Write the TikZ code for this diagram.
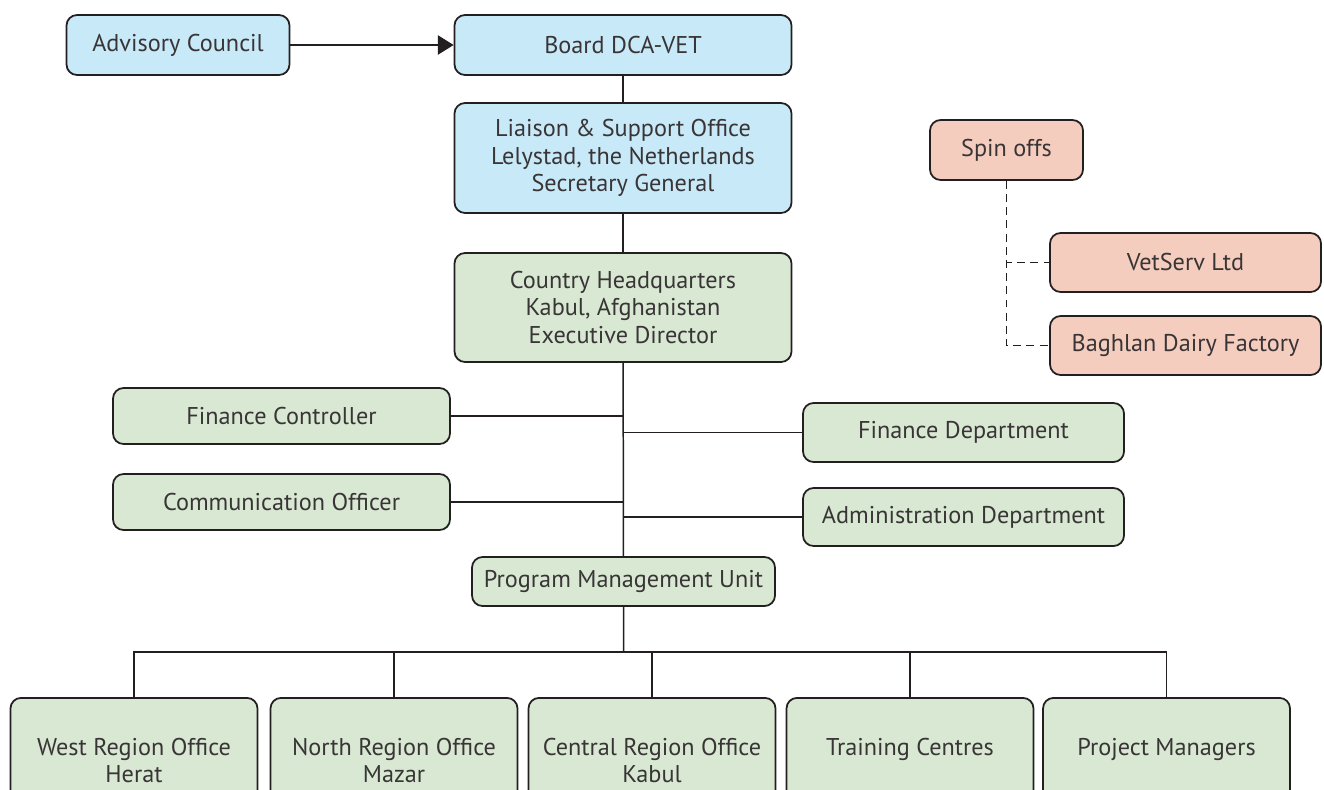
\documentclass[tikz,border=0pt]{standalone}
\usepackage{fontspec}
\setmainfont{PT Sans}
\usepackage{xcolor}
\usepackage{tikz}
\usetikzlibrary{
  arrows.meta,
  positioning,
  calc,
}

\definecolor{boxline}{HTML}{231F20}
\definecolor{boxblue}{HTML}{C8E9F8}
\definecolor{boxgreen}{HTML}{D8E8D3}
\definecolor{boxpink}{HTML}{F4CDBE}

\begin{document}
\begin{tikzpicture}[
  font=\fontsize{13.8}{15.8}\selectfont,
  every node/.style={align=center},
  box/.style={draw=boxline, line width=1pt, rounded corners=6pt,
    inner sep=2pt, text=boxline!90},
  bluebox/.style={box, fill=boxblue},
  greenbox/.style={box, fill=boxgreen},
  pinkbox/.style={box, fill=boxpink},
  regionbox/.style={greenbox, anchor=north, minimum width=4.94cm,
    inner ysep=0.8cm},
  link/.style={draw=boxline, line width=0.85pt},
  dashlink/.style={link, dash pattern=on 4.5pt off 3pt},
  arrow/.style={link, -{Triangle[length=9pt, width=11pt]}},
]

\useasboundingbox (0,0) rectangle (26.48,-15.78);
\clip (0,0) rectangle (26.48,-15.78);

%% Top of the chart
\node[bluebox, minimum width=4.46cm, minimum height=1.2cm] (adv)
  at (3.56,-0.90) {Advisory Council};
\node[bluebox, minimum width=6.74cm, minimum height=1.2cm] (board)
  at (12.46,-0.90) {Board DCA-VET};
\node[bluebox, minimum width=6.74cm, minimum height=2.2cm] (liaison)
  at (12.46,-3.16) {Liaison \& Support Office\\Lelystad, the Netherlands\\Secretary General};
\node[greenbox, minimum width=6.74cm, minimum height=2.18cm] (hq)
  at (12.46,-6.15) {Country Headquarters\\Kabul, Afghanistan\\Executive Director};

%% Staff and departments
\node[greenbox, minimum width=6.74cm, minimum height=1.12cm] (finctrl)
  at (5.63,-8.32) {Finance Controller};
\node[greenbox, minimum width=6.74cm, minimum height=1.12cm] (comm)
  at (5.63,-10.04) {Communication Officer};
\node[greenbox, minimum width=6.42cm, minimum height=1.18cm] (findept)
  at (19.27,-8.65) {Finance Department};
\node[greenbox, minimum width=6.42cm, minimum height=1.16cm] (admin)
  at (19.27,-10.34) {Administration Department};
\node[greenbox, minimum width=6.06cm, minimum height=0.98cm] (pmu)
  at (12.47,-11.63) {Program Management Unit};

%% Spin offs
\node[pinkbox, minimum width=3.06cm, minimum height=1.2cm] (spin)
  at (20.13,-3.00) {Spin offs};
\node[pinkbox, minimum width=5.42cm, minimum height=1.18cm] (vet)
  at (23.71,-5.25) {VetServ Ltd};
\node[pinkbox, minimum width=5.42cm, minimum height=1.18cm] (dairy)
  at (23.71,-6.91) {Baghlan Dairy Factory};

%% Regional offices
\node[regionbox] (west) at (2.68,-13.94) {West Region Office\\Herat};
\node[regionbox] (north) at (7.88,-13.94) {North Region Office\\Mazar};
\node[regionbox] (central) at (13.04,-13.94) {Central Region Office\\Kabul};
\node[regionbox] (train) at (18.20,-13.94) {Training Centres};
\node[regionbox] (proj) at (23.33,-13.94) {Project Managers};

%% Connectors
\draw[arrow] (adv) -- (board);
\draw[link] (board) -- (liaison);
\draw[link] (liaison) -- (hq);
\draw[link] (hq) -- (pmu);
\draw[link] (finctrl.east) -- (finctrl.east -| hq.south);
\draw[link] (comm.east) -- (comm.east -| hq.south);
\draw[link] (findept.west) -- (findept.west -| hq.south);
\draw[link] (admin.west) -- (admin.west -| hq.south);

\coordinate (bus) at ($(pmu.south)!0.5!(pmu.south |- central.north)$);
\draw[link] (pmu.south) -- (bus);
\foreach \office in {west,north,central,train,proj}{
  \draw[link] (\office.north) |- (bus);
}

\draw[dashlink] (spin.south) |- (vet.west);
\draw[dashlink] (spin.south) |- (dairy.west);

\end{tikzpicture}
\end{document}
